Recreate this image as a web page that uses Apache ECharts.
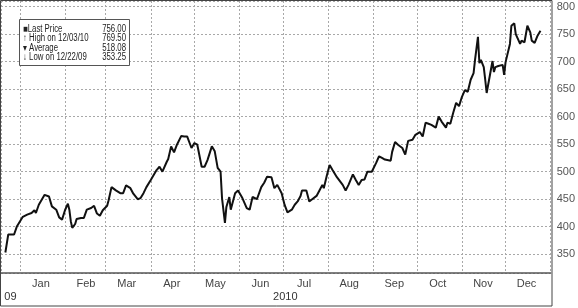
<!DOCTYPE html>
<html>
<head>
<meta charset="utf-8">
<script src="https://cdn.jsdelivr.net/npm/echarts@6/dist/echarts.min.js"></script>
<style>
html,body{margin:0;padding:0;background:#fff;}
#chart{width:578px;height:308px;}
</style>
</head>
<body>
<div id="chart"></div>
<script>
const dates = [
'2009-12-22','2009-12-24','2009-12-28','2009-12-30','2010-01-03','2010-01-06','2010-01-09','2010-01-11','2010-01-12','2010-01-14',
'2010-01-18','2010-01-19','2010-01-21','2010-01-23','2010-01-26','2010-01-28','2010-01-30','2010-02-01','2010-02-03','2010-02-04',
'2010-02-05','2010-02-06','2010-02-08','2010-02-09','2010-02-12','2010-02-14','2010-02-16','2010-02-19','2010-02-21','2010-02-23',
'2010-02-25','2010-02-27','2010-03-02','2010-03-03','2010-03-05','2010-03-08','2010-03-11','2010-03-13','2010-03-15','2010-03-18',
'2010-03-20','2010-03-21','2010-03-23','2010-03-25','2010-03-27','2010-03-29','2010-04-01','2010-04-05','2010-04-07','2010-04-09',
'2010-04-12','2010-04-13','2010-04-15','2010-04-17','2010-04-19','2010-04-22','2010-04-24','2010-04-26','2010-04-29','2010-05-01',
'2010-05-03','2010-05-06','2010-05-08','2010-05-10','2010-05-13','2010-05-15','2010-05-17','2010-05-19','2010-05-20','2010-05-22',
'2010-05-23','2010-05-25','2010-05-26','2010-05-29','2010-05-31','2010-06-03','2010-06-06','2010-06-08','2010-06-10','2010-06-13',
'2010-06-16','2010-06-18','2010-06-20','2010-06-23','2010-06-25','2010-06-27','2010-06-30','2010-07-02','2010-07-04','2010-07-07',
'2010-07-09','2010-07-11','2010-07-13','2010-07-14','2010-07-17','2010-07-19','2010-07-21','2010-07-24','2010-07-26','2010-07-28',
'2010-07-29','2010-07-31','2010-08-02','2010-08-04','2010-08-07','2010-08-11','2010-08-13','2010-08-15','2010-08-18','2010-08-20',
'2010-08-22','2010-08-24','2010-08-26','2010-08-28','2010-08-31','2010-09-03','2010-09-05','2010-09-07','2010-09-09','2010-09-10',
'2010-09-13','2010-09-14','2010-09-16','2010-09-18','2010-09-21','2010-09-23','2010-09-25','2010-09-28','2010-09-30','2010-10-03',
'2010-10-05','2010-10-07','2010-10-09','2010-10-11','2010-10-14','2010-10-16','2010-10-18','2010-10-21','2010-10-22','2010-10-24',
'2010-10-26','2010-10-28','2010-10-30','2010-11-01','2010-11-03','2010-11-05','2010-11-07','2010-11-09','2010-11-10','2010-11-12',
'2010-11-13','2010-11-14','2010-11-16','2010-11-17','2010-11-18','2010-11-20','2010-11-22','2010-11-23','2010-11-24','2010-11-26',
'2010-11-29','2010-11-30','2010-12-01','2010-12-02','2010-12-04','2010-12-05','2010-12-07','2010-12-08','2010-12-11','2010-12-12',
'2010-12-14','2010-12-16','2010-12-18','2010-12-19','2010-12-21','2010-12-23','2010-12-25'
];
const prices = [
353.25,386,386,401,418,422,425,430,425,440,
458,460,455,437,431,417,413,430,442,431,
410,398,405,414,416,416,431,434,438,424,
420,430,438,448,472,466,461,461,475,470,
460,458,450,452,461,472,485,503,509,500,
518,523,546,535,549,565,564,564,543,552,
549,509,509,521,546,537,507,500,452,407,
436,454,431,461,466,452,434,431,454,450,
472,480,491,490,470,476,461,440,426,431,
440,446,456,466,466,446,450,456,466,476,
470,492,512,503,490,476,466,476,495,485,
476,485,486,500,500,516,528,525,522,525,
520,536,554,549,543,531,556,558,567,572,
564,589,587,585,580,600,591,580,589,587,
607,625,619,636,648,645,667,679,703,745,
697,703,690,667,643,672,701,681,690,692,
694,676,699,697,732,765,769.5,750,732,738,
735,765,753,738,734,747,756
];
const monthNames = ['Jan','Feb','Mar','Apr','May','Jun','Jul','Aug','Sep','Oct','Nov','Dec'];
const yearLabels = ['09','2010'];
const yearSpans = [['2009-12-19','2010-01-01'],['2010-01-01','2011-01-01']];
const legendLabels = ['\u25A0Last Price','\u2191 High on 12/03/10','\u25BE Average','\u2193 Low on 12/22/09'];
const legendValues = ['756.00','769.50','518.08','353.25'];

const chart = echarts.init(document.getElementById('chart'), null, {renderer:'canvas'});
const DAY = 86400000;
const FONT = '"Liberation Sans", Arial, sans-serif';
const gridDash = {type:[2,2], color:'#a8a8a8', width:1};

const option = {
  animation: false,
  backgroundColor: '#fff',
  grid: {left:1, right:26, top:1, bottom:35, show:false},
  xAxis: {
    type:'time',
    min:'2009-12-19', max:'2011-01-01',
    splitNumber: 13,
    minInterval: 28*DAY, maxInterval: 31*DAY,
    axisLine:{show:true, lineStyle:{color:'#555', width:1.5}},
    axisTick:{show:false},
    splitLine:{show:true, lineStyle:gridDash},
    axisLabel:{
      showMinLabel:false, showMaxLabel:false,
      margin:5, color:'#444', fontSize:11, fontFamily:FONT,
      formatter: function(v){ return '{m|' + monthNames[new Date(v).getMonth()] + '}'; },
      rich:{ m:{padding:[0,0,0,42], color:'#444', fontSize:11, fontFamily:FONT} }
    }
  },
  yAxis: {
    type:'value', position:'right',
    min:316, max:810, splitNumber:10,
    axisLine:{show:false}, axisTick:{show:false},
    splitLine:{show:true, lineStyle:gridDash},
    axisLabel:{showMinLabel:false, showMaxLabel:false, margin:6, color:'#555', fontSize:11, fontFamily:FONT}
  },
  series: [{
    type:'line',
    data: dates.map((d,i)=>[d, prices[i]]),
    showSymbol:false,
    lineStyle:{color:'#111', width:2},
    z:3
  }]
};
chart.setOption(option);

// Decorations: frame, legend box, year labels (year positions from the axis scale)
const graphics = [];
graphics.push({type:'rect', shape:{x:0.5, y:0.5, width:551.5, height:305.5},
  style:{fill:null, stroke:'#444', lineWidth:1}, silent:true, z:100});
const lg = {type:'group', x:19, y:19, z:110, children:[
  {type:'rect', shape:{x:0.5, y:0.5, width:110, height:46}, style:{fill:'#fff', stroke:'#555', lineWidth:1}}
]};
legendLabels.forEach((t,i)=>{
  lg.children.push({type:'text', x:4, y:10 + i*9.4, scaleX:0.78,
    style:{text:t, fill:'#222', font:'10px ' + FONT, textVerticalAlign:'middle', textAlign:'left'}});
  lg.children.push({type:'text', x:107, y:10 + i*9.4, scaleX:0.78,
    style:{text:legendValues[i], fill:'#222', font:'10px ' + FONT, textVerticalAlign:'middle', textAlign:'right'}});
});
graphics.push(lg);
yearLabels.forEach((t,i)=>{
  const a = chart.convertToPixel({xAxisIndex:0}, yearSpans[i][0]);
  const b = chart.convertToPixel({xAxisIndex:0}, yearSpans[i][1]);
  const cx = Math.max((a+b)/2, 8);
  graphics.push({type:'text', x:cx, y:297,
    style:{text:t, fill:'#333', font:'11px ' + FONT, textAlign:'center', textVerticalAlign:'middle'}});
});
chart.setOption({graphic: graphics});
</script>
</body>
</html>
